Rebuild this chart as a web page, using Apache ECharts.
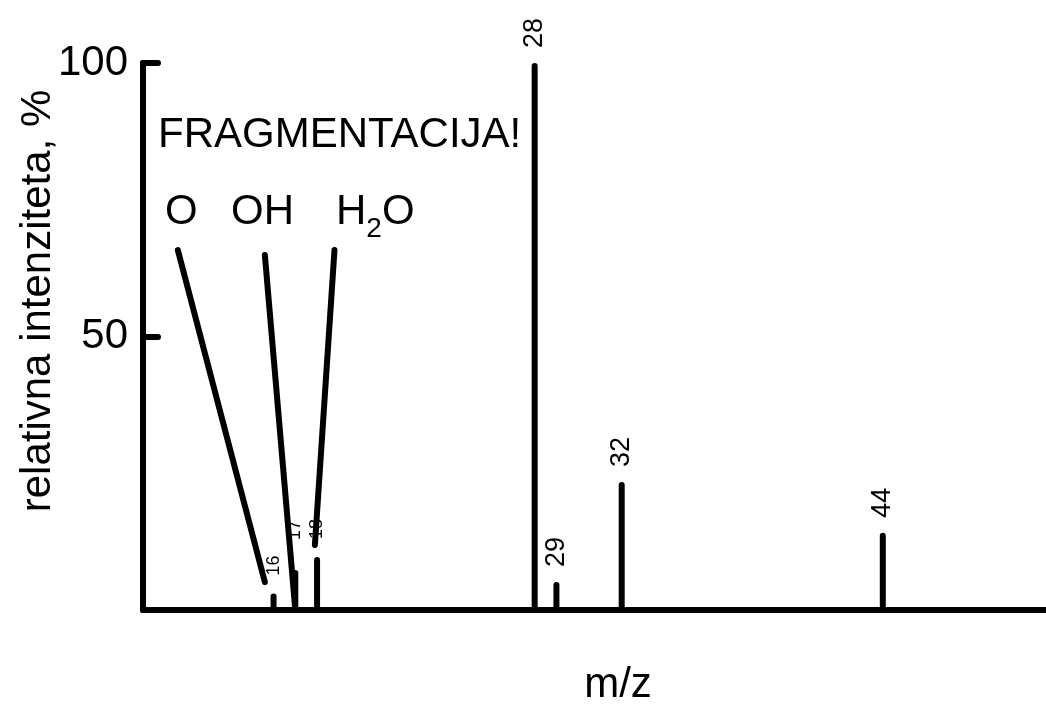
<!DOCTYPE html>
<html>
<head>
<meta charset="utf-8">
<script src="https://cdn.jsdelivr.net/npm/echarts@6/dist/echarts.min.js"></script>
<style>
  html, body { margin: 0; padding: 0; background: #fff; }
  #chart { width: 1046px; height: 704px; }
</style>
</head>
<body>
<div id="chart"></div>
<script>
// mass spectrum peaks (m/z, relative intensity %)
const massToCharge = [16, 17, 18, 28, 29, 32, 44];
const intensity = [3, 7.3, 9.7, 100, 5.1, 23.4, 14.1];
const yTicks = [0, 50, 100];

// fragment annotations: label text + line from label down to its peak (data coords)
const fragmentNames = ['O', 'OH', 'H2O'];
const fragmentFrom = [[11.6, 65.8], [15.6, 64.9], [18.8, 65.8]];
const fragmentTo = [[15.6, 5.1], [17, 0], [17.9, 11.9]];

const FONT = 'Liberation Sans, Arial, sans-serif';
const chart = echarts.init(document.getElementById('chart'));

const barData = massToCharge.map((mz, i) => {
  const small = mz < 20;
  return {
    value: [mz, intensity[i]],
    label: {
      fontSize: small ? 18 : 27,
      distance: mz === 17 ? 30 : (small ? 18 : 15)
    }
  };
});

const fragmentLines = fragmentFrom.map((from, i) => [
  { coord: from },
  { coord: fragmentTo[i] }
]);

const option = {
  backgroundColor: '#fff',
  animation: false,
  grid: { left: 143, right: 0, top: 63, bottom: 94 },
  xAxis: {
    type: 'value',
    min: 10,
    max: 51.5,
    axisLine: { lineStyle: { color: '#000', width: 6 } },
    axisTick: { show: false },
    axisLabel: { show: false },
    splitLine: { show: false }
  },
  yAxis: {
    type: 'value',
    min: yTicks[0],
    max: yTicks[yTicks.length - 1],
    interval: 50,
    axisLine: { show: true, lineStyle: { color: '#000', width: 6, cap: 'round' } },
    axisTick: { show: true, inside: true, length: 15, lineStyle: { color: '#000', width: 6, cap: 'round' } },
    axisLabel: {
      color: '#000',
      fontSize: 42,
      fontFamily: FONT,
      margin: 15,
      formatter: v => (v === 0 ? '' : String(v))
    },
    splitLine: { show: false }
  },
  series: [
    {
      type: 'bar',
      data: barData,
      barWidth: 6,
      itemStyle: { color: '#000', borderRadius: [3, 3, 0, 0] },
      label: {
        show: true,
        position: 'top',
        rotate: 90,
        align: 'left',
        verticalAlign: 'middle',
        color: '#000',
        fontFamily: FONT,
        formatter: p => String(p.value[0])
      }
    },
    {
      type: 'line',
      data: [],
      markLine: {
        silent: true,
        symbol: 'none',
        label: { show: false },
        lineStyle: { color: '#000', width: 6, type: 'solid', cap: 'round' },
        data: fragmentLines
      }
    }
  ],
  graphic: [
    {
      type: 'text', left: 158, top: 135 - 21,
      style: { text: 'FRAGMENTACIJA!', font: '42px ' + FONT, fill: '#000' }
    },
    {
      type: 'text', left: 165, top: 212 - 21,
      style: { text: fragmentNames[0], font: '42px ' + FONT, fill: '#000' }
    },
    {
      type: 'text', left: 231, top: 212 - 21,
      style: { text: fragmentNames[1], font: '42px ' + FONT, fill: '#000' }
    },
    {
      type: 'text', left: 336, top: 212 - 21,
      style: {
        text: '{a|H}{b|2}{a|O}',
        fill: '#000',
        rich: {
          a: { fontSize: 42, fontFamily: FONT, color: '#000' },
          b: { fontSize: 28, fontFamily: FONT, color: '#000', padding: [34, 0, 0, 0] }
        }
      }
    },
    {
      type: 'text', x: 38, y: 301, rotation: Math.PI / 2,
      style: {
        text: 'relativna intenziteta, %',
        font: '42px ' + FONT, fill: '#000',
        align: 'center', verticalAlign: 'middle'
      }
    },
    {
      type: 'text', x: 618, y: 685,
      style: {
        text: 'm/z', font: '42px ' + FONT, fill: '#000',
        align: 'center', verticalAlign: 'middle'
      }
    }
  ]
};

chart.setOption(option);
</script>
</body>
</html>
